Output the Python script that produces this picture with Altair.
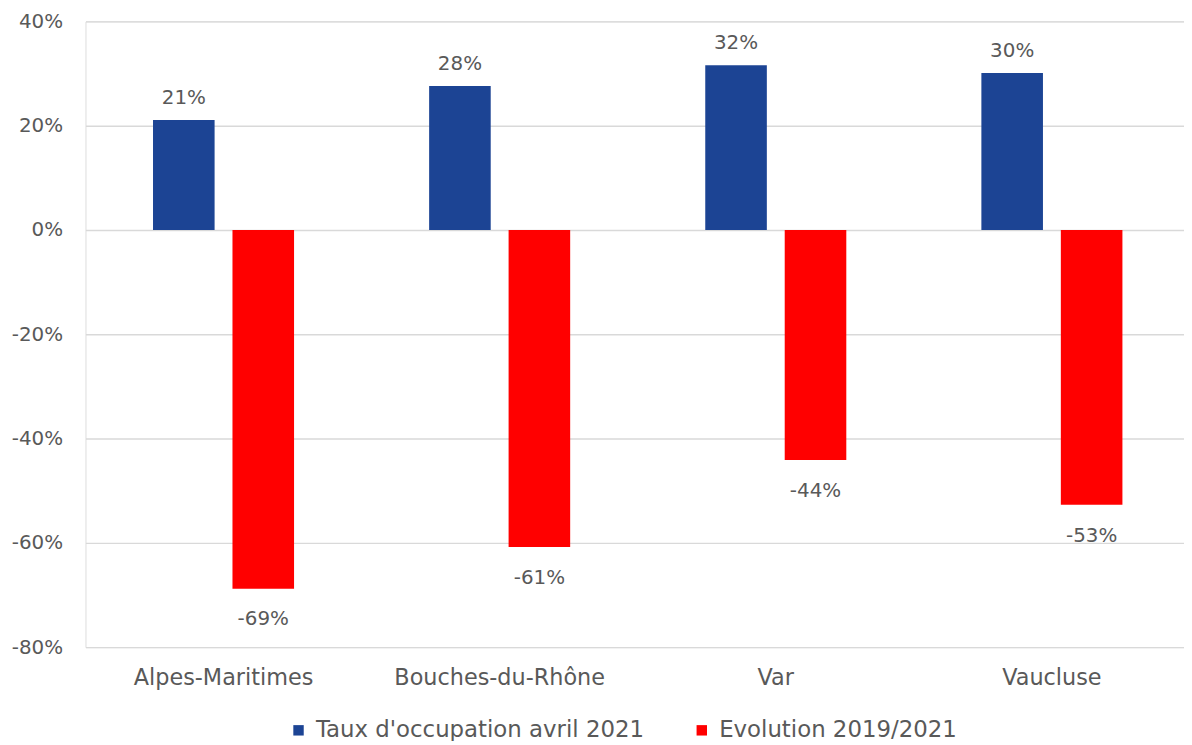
import altair as alt
import pandas as pd

categories = ["Alpes-Maritimes", "Bouches-du-Rhône", "Var", "Vaucluse"]
series_names = ["Taux d'occupation avril 2021", "Evolution 2019/2021"]
taux = [0.211, 0.276, 0.316, 0.301]
evolution = [-0.688, -0.608, -0.441, -0.527]
colors = ["#1c4494", "#ff0000"]
y_ticks = [-0.8, -0.6, -0.4, -0.2, 0.0, 0.2, 0.4]

rows = []
for i, c in enumerate(categories):
    rows.append({"cat": c, "series": series_names[0], "value": taux[i]})
    rows.append({"cat": c, "series": series_names[1], "value": evolution[i]})
df = pd.DataFrame(rows)

FONT = "DejaVu Sans"
TXT = "#595959"

x_enc = alt.X("cat:N", sort=categories, title=None,
              scale=alt.Scale(range=[0, 1112], paddingInner=0, paddingOuter=0),
              axis=alt.Axis(labelAngle=0, domain=False, ticks=False, labelPadding=20,
                            labelFontSize=22.5, labelColor=TXT, labelFont=FONT, grid=False,
                            labelLimit=500))
xo_enc = alt.XOffset("series:N", sort=series_names,
                     scale=alt.Scale(paddingInner=0.225, paddingOuter=0.85))
y_enc = alt.Y("value:Q", title=None,
              scale=alt.Scale(domain=[-0.8, 0.4], nice=False, zero=False),
              axis=alt.Axis(values=y_ticks, format=".0%", domain=False, ticks=False,
                            labelExpr="replace(datum.label, '\u2212', '-')",
                            labelPadding=23, labelFontSize=20, labelColor=TXT, labelFont=FONT,
                            gridColor="#d9d9d9", gridWidth=1.4))

base = alt.Chart(df).transform_calculate(
    lbl="replace(format(datum.value, '.0%'), '\u2212', '-')"
)

bars = base.mark_bar(size=62).encode(
    x=x_enc,
    xOffset=xo_enc,
    y=y_enc,
    color=alt.Color("series:N", sort=series_names,
                    scale=alt.Scale(domain=series_names, range=colors),
                    legend=alt.Legend(title=None, orient="none", direction="horizontal",
                                      legendX=203, legendY=702,
                                      symbolType="square", symbolSize=110,
                                      symbolStrokeWidth=0, labelFontSize=23,
                                      labelColor=TXT, labelFont=FONT, labelOffset=6,
                                      columnPadding=46, labelLimit=600)),
)

pos_labels = base.transform_filter("datum.value >= 0").mark_text(
    baseline="alphabetic", dy=-16, fontSize=20, font=FONT, color=TXT
).encode(
    x=alt.X("cat:N", sort=categories),
    xOffset=alt.XOffset("series:N", sort=series_names),
    y="value:Q",
    text="lbl:N",
)

neg_labels = base.transform_filter("datum.value < 0").mark_text(
    baseline="alphabetic", dy=37, fontSize=20, font=FONT, color=TXT
).encode(
    x=alt.X("cat:N", sort=categories),
    xOffset=alt.XOffset("series:N", sort=series_names),
    y="value:Q",
    text="lbl:N",
)

chart = alt.layer(bars, pos_labels, neg_labels).properties(
    width=1106, height=630,
    autosize=alt.AutoSizeParams(type="none"),
    padding={"left": 78, "top": 11, "right": 0, "bottom": 92},
).configure_view(stroke=None).configure(background="white")

chart.save("out.html", embed_options={"renderer": "svg", "actions": False})
